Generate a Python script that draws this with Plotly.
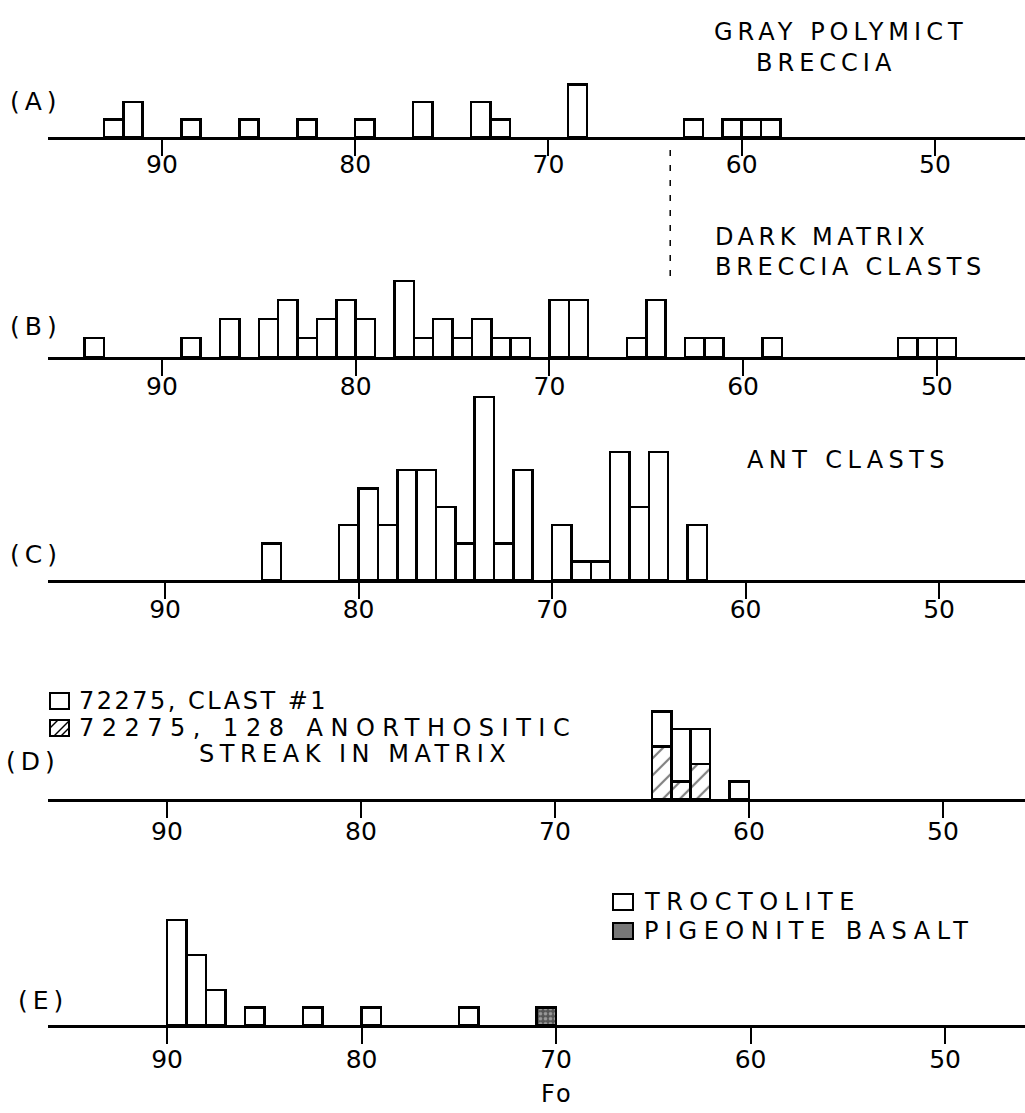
import plotly.graph_objects as go

# ---------------- data (Fo bin centres, 1-unit bins, and counts) ----------------
tick_vals = [90, 80, 70, 60, 50]
tick_text = ["90", "80", "70", "60", "50"]

a_fo = [92.5, 91.5, 88.5, 85.5, 82.5, 79.5, 76.5, 73.5, 72.5, 68.5, 62.5, 60.5, 59.5, 58.5]
a_count = [1, 2, 1, 1, 1, 1, 2, 2, 1, 3, 1, 1, 1, 1]

b_fo = [93.5, 88.5, 86.5, 84.5, 83.5, 82.5, 81.5, 80.5, 79.5, 77.5, 76.5, 75.5, 74.5,
        73.5, 72.5, 71.5, 69.5, 68.5, 65.5, 64.5, 62.5, 61.5, 58.5, 51.5, 50.5, 49.5]
b_count = [1, 1, 2, 2, 3, 1, 2, 3, 2, 4, 1, 2, 1, 2, 1, 1, 3, 3, 1, 3, 1, 1, 1, 1, 1, 1]

c_fo = [84.5, 80.5, 79.5, 78.5, 77.5, 76.5, 75.5, 74.5, 73.5, 72.5, 71.5,
        69.5, 68.5, 67.5, 66.5, 65.5, 64.5, 62.5]
c_count = [2, 3, 5, 3, 6, 6, 4, 2, 10, 2, 6, 3, 1, 1, 7, 4, 7, 3]

d_fo = [64.5, 63.5, 62.5, 60.5]
d_anorth = [3, 1, 2, 0]
d_clast1 = [2, 3, 2, 1]

e_troct_fo = [89.5, 88.5, 87.5, 85.5, 82.5, 79.5, 74.5]
e_troct_count = [6, 4, 2, 1, 1, 1, 1]
e_pig_fo = [70.5]
e_pig_count = [1]

divider_fo = 63.7

panel_titles = {
    "A": ["GRAY POLYMICT", "BRECCIA"],
    "B": ["DARK MATRIX", "BRECCIA CLASTS"],
    "C": ["ANT CLASTS"],
}
d_legend = ["72275, CLAST #1", "72275, 128 ANORTHOSITIC", "STREAK IN MATRIX"]
e_legend = ["TROCTOLITE", "PIGEONITE BASALT"]

# ---------------- layout geometry ----------------
W, H = 1025, 1113
FONT = "DejaVu Sans"


def py(p):
    return 1 - p / H


def px(p):
    return p / W


panels = [
    dict(name="A", base=137, unit=17.5, ymax=3.5, xr=[95.90, 45.34], so=-13),
    dict(name="B", base=357, unit=19.0, ymax=4.6, xr=[95.88, 45.45], so=-11),
    dict(name="C", base=580, unit=18.3, ymax=10.5, xr=[96.05, 45.56], so=-11),
    dict(name="D", base=799, unit=17.5, ymax=5.6, xr=[96.13, 45.77], so=-8),
    dict(name="E", base=1025, unit=17.5, ymax=6.5, xr=[96.12, 45.89], so=-6),
]

fig = go.Figure()
layout = dict(
    width=W, height=H, autosize=False,
    margin=dict(l=0, r=0, t=0, b=0),
    paper_bgcolor="white", plot_bgcolor="white",
    showlegend=False, barmode="stack", hovermode=False,
    font=dict(family=FONT, color="black"),
)

for i, p in enumerate(panels):
    s = "" if i == 0 else str(i + 1)
    layout["xaxis" + s] = dict(
        domain=[px(48), 1.0], range=p["xr"], anchor="y" + s,
        showline=True, linecolor="black", linewidth=2.5,
        ticks="outside", ticklen=16, tickwidth=2, tickcolor="black",
        tickvals=tick_vals, ticktext=tick_text, ticklabelstandoff=p["so"],
        tickfont=dict(family=FONT, size=25, color="black"),
        showgrid=False, zeroline=False, fixedrange=True,
    )
    layout["yaxis" + s] = dict(
        domain=[py(p["base"]), py(p["base"] - p["ymax"] * p["unit"])],
        range=[0, p["ymax"]], anchor="x" + s, visible=False, fixedrange=True,
    )
    p["xref"] = "x" + s
    p["yref"] = "y" + s

open_marker = dict(color="white", line=dict(color="black", width=2.5))


def add_bar(x, y, panel, marker):
    fig.add_trace(go.Bar(x=x, y=y, width=1, marker=marker,
                         xaxis=panel["xref"], yaxis=panel["yref"]))


add_bar(a_fo, a_count, panels[0], open_marker)
add_bar(b_fo, b_count, panels[1], open_marker)
add_bar(c_fo, c_count, panels[2], open_marker)
add_bar(d_fo, d_anorth, panels[3], dict(
    color="white", line=dict(color="black", width=2.5),
    pattern=dict(shape="/", fgcolor="black", bgcolor="white", size=12, solidity=0.18)))
add_bar(d_fo, d_clast1, panels[3], open_marker)
add_bar(e_troct_fo, e_troct_count, panels[4], open_marker)
add_bar(e_pig_fo, e_pig_count, panels[4], dict(
    color="#555", line=dict(color="black", width=2.5),
    pattern=dict(shape=".", fgcolor="#dddddd", bgcolor="#555555", size=5, solidity=0.4)))

annotations = []


def ann(text, x, y, xanchor="left", size=24, ls=5):
    annotations.append(dict(
        text=f'<span style="letter-spacing:{ls}px">{text}</span>',
        x=px(x), y=py(y), xref="paper", yref="paper",
        xanchor=xanchor, yanchor="middle", showarrow=False,
        font=dict(family=FONT, size=size, color="black")))


# panel letters
for lab, x, y in [("(A)", 8, 101), ("(B)", 8, 326), ("(C)", 8, 554), ("(D)", 4, 761), ("(E)", 16, 1000)]:
    ann(lab, x, y, size=25, ls=5)

# panel titles
ann(panel_titles["A"][0], 841, 32, xanchor="center", ls=5)
ann(panel_titles["A"][1], 826, 63, xanchor="center", ls=5)
ann(panel_titles["B"][0], 713, 237, ls=4.5)
ann(panel_titles["B"][1], 713, 267, ls=4.7)
ann(panel_titles["C"][0], 745, 460, ls=5.4)

# D legend
ann(d_legend[0], 77, 701, ls=2.5)
ann(d_legend[1], 77, 728, ls=7.5)
ann(d_legend[2], 197, 754, ls=5.5)
# E legend
ann(e_legend[0], 642, 902, ls=6.5)
ann(e_legend[1], 642, 931, ls=6.5)

# axis name
ann("Fo", 557, 1094, xanchor="center", size=24, ls=2)

shapes = []
# D legend squares
shapes.append(dict(type="rect", xref="paper", yref="paper",
                   x0=px(50), x1=px(69), y0=py(709), y1=py(693),
                   line=dict(color="black", width=2), fillcolor="white"))
shapes.append(dict(type="rect", xref="paper", yref="paper",
                   x0=px(50), x1=px(69), y0=py(736), y1=py(720),
                   line=dict(color="black", width=2), fillcolor="white"))
for (a0, b0, a1, b1) in [(50, 728, 58, 720), (54, 736, 69, 721), (61, 736, 69, 728)]:
    shapes.append(dict(type="line", xref="paper", yref="paper",
                       x0=px(a0), y0=py(b0), x1=px(a1), y1=py(b1),
                       line=dict(color="black", width=1.5)))
# E legend squares
shapes.append(dict(type="rect", xref="paper", yref="paper",
                   x0=px(613), x1=px(633), y0=py(910), y1=py(894),
                   line=dict(color="black", width=2), fillcolor="white"))
shapes.append(dict(type="rect", xref="paper", yref="paper",
                   x0=px(613), x1=px(633), y0=py(939), y1=py(923),
                   line=dict(color="black", width=2), fillcolor="#777777"))

# dashed divider between A and B
shapes.append(dict(type="line", xref="x", yref="paper",
                   x0=divider_fo, x1=divider_fo, y0=py(150), y1=py(277),
                   line=dict(color="black", width=1.5, dash="6px,9px")))

layout["annotations"] = annotations
layout["shapes"] = shapes
fig.update_layout(**layout)

fig.write_html(
    "out.html",
    config={"displayModeBar": False, "staticPlot": True},
    post_script="document.body.style.margin='0';document.body.style.overflow='hidden';",
)
